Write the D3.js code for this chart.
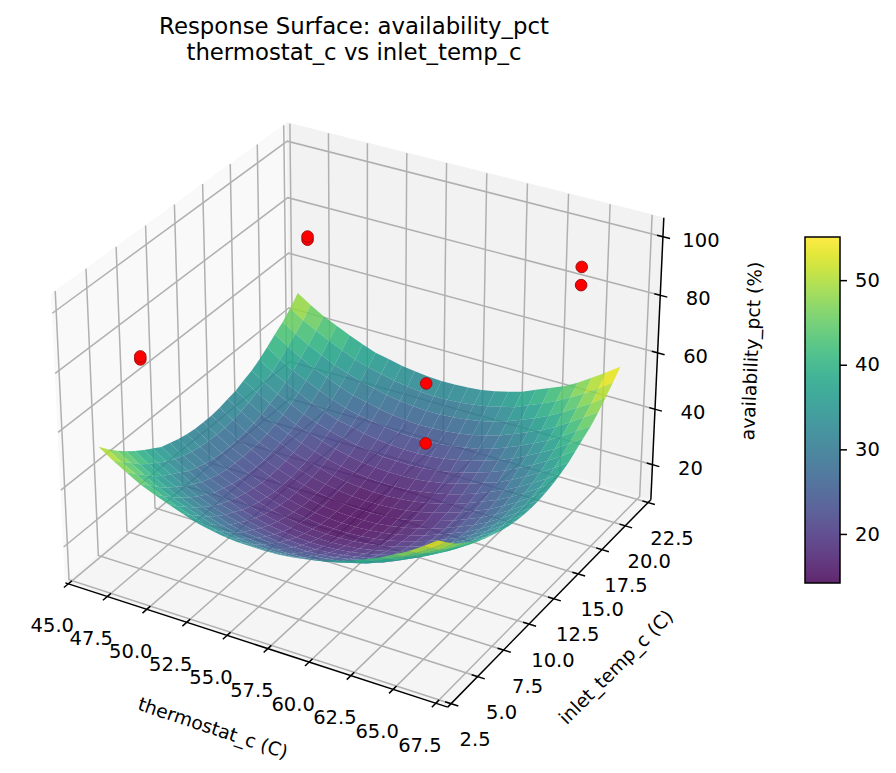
<!DOCTYPE html>
<html>
<head>
<meta charset="utf-8">
<title>Response Surface</title>
<script src="https://cdnjs.cloudflare.com/ajax/libs/d3/7.8.5/d3.min.js"></script>
<style>
html, body { margin: 0; padding: 0; background: #fff; }
svg { display: block; }
text { font-family: 'DejaVu Sans', sans-serif; fill: #000; }
</style>
</head>
<body>
<svg id="chart" width="896" height="773"></svg>
<script>
var title_lines = ['Response Surface: availability_pct', 'thermostat_c vs inlet_temp_c'];
var x_label = 'thermostat_c (C)';
var y_label = 'inlet_temp_c (C)';
var z_label = 'availability_pct (%)';

var x_ticks = [45, 47.5, 50, 52.5, 55, 57.5, 60, 62.5, 65, 67.5];
var y_ticks = [2.5, 5, 7.5, 10, 12.5, 15, 17.5, 20, 22.5];
var z_ticks = [20, 40, 60, 80, 100];
var colorbar_ticks = [20, 30, 40, 50];

var x_limits = [44.81, 68.19];
var y_limits = [2.19, 22.81];
var z_limits = [7.2, 106.4];
var color_limits = [14.2, 55.1];

// measured points, lower one of each pair first so the upper one sits on top
var observed_x = [48, 48, 48, 48, 65, 65, 65, 65];
var observed_y = [5, 5, 20, 20, 5, 5, 20, 20];
var observed_z = [81, 82, 77.6, 78.7, 80.6, 100.1, 87, 93.2];

var surface_x = [46.3, 47.15, 48, 48.85, 49.7, 50.55, 51.4, 52.25, 53.1, 53.95, 54.8, 55.65, 56.5, 57.35, 58.2, 59.05, 59.9, 60.75, 61.6, 62.45, 63.3, 64.15, 65, 65.85, 66.7];
var surface_y = [3.5, 4.25, 5, 5.75, 6.5, 7.25, 8, 8.75, 9.5, 10.25, 11, 11.75, 12.5, 13.25, 14, 14.75, 15.5, 16.25, 17, 17.75, 18.5, 19.25, 20, 20.75, 21.5];

// one row per surface_x, one column per surface_y
var surface_z = [
	[53.2,49.9,46.9,44.3,41.9,39.8,37.9,36.0,34.9,33.9,33.2,32.7,32.6,32.7,33.1,33.8,34.5,35.8,37.0,38.8,40.9,43.3,45.4,48.3,51.6],
	[50.1,46.8,44.2,41.2,38.8,36.7,34.8,33.1,31.8,30.8,30.1,29.7,29.5,29.6,30.0,30.7,31.6,32.9,34.1,35.7,37.8,40.2,42.6,45.2,48.5],
	[47.3,44.3,41.3,38.4,36.0,34.1,32.2,30.3,29.0,28.0,27.3,26.8,26.7,26.8,27.2,27.9,28.8,30.1,31.3,33.1,35.0,37.4,39.8,42.7,45.7],
	[44.6,41.6,38.6,35.8,33.6,31.4,29.6,27.8,26.5,25.5,24.8,24.6,24.4,24.6,24.7,25.3,26.3,27.5,28.9,30.7,32.8,34.9,37.5,40.4,43.6],
	[42.6,39.4,36.4,33.8,31.3,29.2,27.3,25.6,24.6,23.5,22.8,22.4,22.2,22.3,22.7,23.4,24.3,25.3,26.6,28.4,30.5,32.9,35.2,38.2,41.4],
	[40.7,37.4,34.6,31.8,29.4,27.2,25.4,23.9,22.6,21.6,20.9,20.4,20.2,20.4,20.8,21.4,22.4,23.6,24.7,26.5,28.6,30.9,33.5,36.2,39.4],
	[39.0,35.7,32.9,30.1,27.7,25.6,24.0,22.2,20.9,19.9,19.2,18.7,18.6,18.7,19.1,19.8,20.7,22.0,23.3,24.8,26.9,29.2,31.8,34.7,37.7],
	[37.3,34.2,31.2,28.5,26.1,24.3,22.4,20.8,19.5,18.5,17.8,17.3,17.2,17.3,17.7,18.4,19.3,20.6,22.1,23.9,25.7,28.1,30.7,33.6,36.7],
	[36.2,33.1,30.1,27.4,25.0,23.2,21.3,19.7,18.4,17.4,16.7,16.2,16.1,16.2,16.6,17.3,18.2,19.5,21.0,22.8,24.9,27.0,29.6,32.5,35.6],
	[35.4,32.3,29.3,26.6,24.5,22.4,20.5,18.9,17.6,16.6,15.9,15.4,15.3,15.4,15.8,16.4,17.4,18.6,20.2,22.0,24.1,26.1,28.8,31.7,34.9],
	[34.9,31.8,28.8,26.1,24.0,21.8,20.0,18.4,17.1,16.1,15.3,14.9,14.7,14.8,15.2,15.9,16.9,18.1,19.6,21.4,23.5,25.6,28.3,31.2,34.4],
	[34.8,31.5,28.5,25.8,23.7,21.6,19.7,18.1,16.8,15.8,15.1,14.6,14.5,14.6,15.0,15.7,16.6,17.9,19.4,21.2,23.3,25.3,28.0,30.9,34.1],
	[34.8,31.6,28.6,25.9,23.7,21.6,19.7,18.2,16.9,15.9,15.1,14.7,14.5,14.6,15.0,15.7,16.7,17.9,19.4,21.2,23.3,25.4,28.0,31.0,34.2],
	[35.0,31.9,28.9,26.2,24.1,21.9,20.1,18.5,17.2,16.2,15.4,15.0,14.8,14.9,15.3,16.0,17.0,18.2,19.7,21.5,23.6,25.7,28.4,31.3,34.5],
	[35.6,32.5,29.5,26.8,24.7,22.5,20.7,19.1,17.8,16.8,16.0,15.6,15.4,15.5,15.9,16.6,17.6,18.8,20.3,22.1,24.2,26.3,29.0,31.9,34.9],
	[36.4,33.4,30.4,27.7,25.3,23.4,21.6,20.0,18.7,17.7,16.9,16.5,16.3,16.4,16.8,17.5,18.5,19.7,21.2,23.0,25.1,27.2,29.8,32.8,35.8],
	[37.6,34.6,31.6,28.9,26.4,24.6,22.7,21.2,19.9,18.8,18.1,17.7,17.5,17.6,18.0,18.7,19.6,20.9,22.4,24.2,26.0,28.4,31.0,34.0,37.0],
	[39.1,35.8,33.0,30.3,27.9,25.7,24.2,22.6,21.3,20.3,19.6,19.1,18.9,19.1,19.5,20.1,21.1,22.3,23.9,25.7,27.5,29.8,32.5,35.2,38.4],
	[40.5,37.3,34.3,31.9,29.4,27.3,25.4,24.4,23.1,22.0,21.3,20.9,20.7,20.8,21.2,21.9,22.8,24.1,25.5,27.3,29.4,31.8,34.5,37.3,40.5],
	[42.6,39.3,36.3,33.9,31.5,29.3,27.5,26.1,24.8,24.1,23.3,22.9,22.7,22.8,23.2,23.9,24.9,25.8,27.5,29.3,31.4,33.8,36.4,39.3,42.5],
	[44.6,41.6,38.6,36.0,33.8,31.6,29.8,28.4,27.1,26.1,25.4,24.9,24.7,24.8,25.2,25.9,26.9,28.1,29.8,31.7,33.7,35.9,38.7,41.6,44.5],
	[47.2,43.9,41.2,38.6,36.2,34.2,32.4,31.0,29.7,28.7,28.0,27.5,27.3,27.4,27.8,28.5,29.5,30.7,32.4,34.3,36.1,38.5,41.3,44.2,47.1],
	[49.8,46.6,43.9,41.4,39.0,36.8,35.0,33.9,32.6,31.6,30.8,30.4,30.2,30.3,30.7,31.4,32.4,33.6,35.2,37.0,39.1,41.5,44.3,47.0,50.2],
	[53.0,49.7,46.7,44.2,42.1,40.0,38.1,36.8,35.5,34.5,34.0,33.5,33.4,33.5,33.9,34.6,35.3,36.6,38.4,40.2,42.3,44.7,47.2,50.1,53.4],
	[56.5,53.2,50.2,47.7,45.3,43.4,41.6,40.3,39.0,38.0,37.3,36.8,36.6,36.7,37.1,37.8,38.8,40.0,41.8,43.7,45.4,47.8,50.7,53.6,56.8]
];

var svg = d3.select('#chart');

// box sides and camera of the default 3d view, elevation 30 and azimuth -60
var box_x = 1.1905,
	box_y = 1.1905,
	box_z = 0.9,
	camera_dist = 10;

var x_scale = d3.scaleLinear().domain(x_limits).range([-box_x / 2, box_x / 2]);
var y_scale = d3.scaleLinear().domain(y_limits).range([-box_y / 2, box_y / 2]);
var z_scale = d3.scaleLinear().domain(z_limits).range([-box_z / 2, box_z / 2]);

var screen_x = d3.scaleLinear().domain([-0.1, 0.1]).range([363.5 - 368, 363.5 + 368]);
var screen_y = d3.scaleLinear().domain([-0.1, 0.1]).range([401 + 366, 401 - 366]);

function view(x, y, z) {
	var px = x_scale(x), py = y_scale(y), pz = z_scale(z);
	var right = 0.866025 * px + 0.5 * py;
	var up = -0.25 * px + 0.433013 * py + 0.866025 * pz;
	var toward = 0.433013 * px - 0.75 * py + 0.5 * pz;
	return { right: right, up: up, toward: toward };
}

function project(x, y, z) {
	var v = view(x, y, z);
	var d = camera_dist - v.toward;
	return [screen_x(v.right / d), screen_y(v.up / d)];
}

var line_path = d3.line();

function path3d(points) {
	return line_path(points.map(function(p) { return project(p[0], p[1], p[2]); }));
}

var x0 = x_limits[0], x1 = x_limits[1],
	y0 = y_limits[0], y1 = y_limits[1],
	z0 = z_limits[0], z1 = z_limits[1];

// panes
var panes = [
	{ color: '#f9f9f9', corners: [[x0, y0, z0], [x0, y1, z0], [x0, y1, z1], [x0, y0, z1]] },
	{ color: '#f2f2f2', corners: [[x0, y1, z0], [x1, y1, z0], [x1, y1, z1], [x0, y1, z1]] },
	{ color: '#f5f5f5', corners: [[x0, y0, z0], [x1, y0, z0], [x1, y1, z0], [x0, y1, z0]] }
];

svg.append('g').selectAll('path')
	.data(panes)
	.enter().append('path')
	.attr('d', function(d) { return path3d(d.corners) + 'Z'; })
	.style('fill', function(d) { return d.color; })
	.style('stroke', function(d) { return d.color; })
	.style('stroke-width', 1);

// grid
var grid_lines = [];
x_ticks.forEach(function(t) {
	grid_lines.push([[t, y0, z0], [t, y1, z0], [t, y1, z1]]);
});
y_ticks.forEach(function(t) {
	grid_lines.push([[x1, t, z0], [x0, t, z0], [x0, t, z1]]);
});
z_ticks.forEach(function(t) {
	grid_lines.push([[x0, y0, t], [x0, y1, t], [x1, y1, t]]);
});

svg.append('g').selectAll('path')
	.data(grid_lines)
	.enter().append('path')
	.attr('d', path3d)
	.style('fill', 'none')
	.style('stroke', '#b0b0b0')
	.style('stroke-width', 1.5);

// axis lines and ticks
var axis_lines = [
	[[x0, y0, z0], [x1, y0, z0]],
	[[x1, y0, z0], [x1, y1, z0]],
	[[x1, y1, z0], [x1, y1, z1]]
];
var tick_in = 0.015, tick_out = 0.018;
var x_span = x1 - x0, y_span = y1 - y0;

x_ticks.forEach(function(t) {
	axis_lines.push([[t, y0 - tick_out * y_span, z0], [t, y0 + tick_in * y_span, z0]]);
});
y_ticks.forEach(function(t) {
	axis_lines.push([[x1 - tick_in * x_span, t, z0], [x1 + tick_out * x_span, t, z0]]);
});
z_ticks.forEach(function(t) {
	axis_lines.push([[x1 - tick_in * x_span, y1, t], [x1 + tick_out * x_span, y1, t]]);
});

svg.append('g').selectAll('path')
	.data(axis_lines)
	.enter().append('path')
	.attr('d', path3d)
	.style('fill', 'none')
	.style('stroke', '#000')
	.style('stroke-width', 1.5);

// tick labels
function add_tick_labels(ticks, format, corner, dx, dy) {
	svg.append('g').selectAll('text')
		.data(ticks)
		.enter().append('text')
		.attr('x', function(t) { return corner(t)[0] + dx; })
		.attr('y', function(t) { return corner(t)[1] + dy; })
		.attr('text-anchor', 'middle')
		.attr('dominant-baseline', 'central')
		.style('font-size', '19.5px')
		.text(format);
}

add_tick_labels(x_ticks, d3.format('.1f'), function(t) { return project(t, y0, z0); }, -16, 42);
add_tick_labels(y_ticks, d3.format('.1f'), function(t) { return project(x1, t, z0); }, 24, 36);
add_tick_labels(z_ticks, d3.format('d'), function(t) { return project(x1, y1, t); }, 38, 3.5);

// surface, far cells first
var color = d3.scaleSequential(d3.interpolateViridis).domain(color_limits);
var cells = [];

for (var i = 0; i < surface_x.length - 1; i++) {
	for (var j = 0; j < surface_y.length - 1; j++) {
		var corners = [
			[surface_x[i], surface_y[j], surface_z[i][j]],
			[surface_x[i + 1], surface_y[j], surface_z[i + 1][j]],
			[surface_x[i + 1], surface_y[j + 1], surface_z[i + 1][j + 1]],
			[surface_x[i], surface_y[j + 1], surface_z[i][j + 1]]
		];
		cells.push({
			corners: corners,
			mean_z: d3.mean(corners, function(c) { return c[2]; }),
			depth: d3.mean(corners, function(c) { return view(c[0], c[1], c[2]).toward; })
		});
	}
}

cells.sort(function(a, b) { return a.depth - b.depth; });

svg.append('g').selectAll('path')
	.data(cells)
	.enter().append('path')
	.attr('d', function(d) { return path3d(d.corners) + 'Z'; })
	.style('fill', function(d) { return color(d.mean_z); })
	.style('fill-opacity', 0.85);

// observed points
svg.append('g').selectAll('circle')
	.data(d3.range(observed_x.length))
	.enter().append('circle')
	.attr('cx', function(i) { return project(observed_x[i], observed_y[i], observed_z[i])[0]; })
	.attr('cy', function(i) { return project(observed_x[i], observed_y[i], observed_z[i])[1]; })
	.attr('r', 5.8)
	.style('fill', '#ff0000')
	.style('stroke', '#a01010')
	.style('stroke-width', 1);

// title and axis labels
svg.append('g').selectAll('text')
	.data(title_lines)
	.enter().append('text')
	.attr('x', 354)
	.attr('y', function(d, i) { return 26 + i * 26; })
	.attr('text-anchor', 'middle')
	.attr('dominant-baseline', 'central')
	.style('font-size', '22.8px')
	.text(function(d) { return d; });

var axis_titles = [
	{ text: x_label, x: 213, y: 728, angle: 18.5 },
	{ text: y_label, x: 616, y: 667, angle: -45 },
	{ text: z_label, x: 751.5, y: 351, angle: -87.5 }
];

svg.append('g').selectAll('text')
	.data(axis_titles)
	.enter().append('text')
	.attr('transform', function(d) { return 'translate(' + d.x + ',' + d.y + ') rotate(' + d.angle + ')'; })
	.attr('text-anchor', 'middle')
	.attr('dominant-baseline', 'central')
	.style('font-size', '18.7px')
	.text(function(d) { return d.text; });

// colorbar
var bar_left = 805, bar_width = 35, bar_top = 237, bar_bottom = 583;
var bar_scale = d3.scaleLinear().domain(color_limits).range([bar_bottom, bar_top]);

var gradient = svg.append('defs').append('linearGradient')
	.attr('id', 'barGradient')
	.attr('x1', 0).attr('y1', 1)
	.attr('x2', 0).attr('y2', 0);

gradient.selectAll('stop')
	.data(d3.range(0, 1.0001, 0.05))
	.enter().append('stop')
	.attr('offset', function(d) { return d; })
	.attr('stop-color', function(d) { return d3.interpolateViridis(d); })
	.attr('stop-opacity', 0.85);

svg.append('rect')
	.attr('x', bar_left)
	.attr('y', bar_top)
	.attr('width', bar_width)
	.attr('height', bar_bottom - bar_top)
	.style('fill', 'url(#barGradient)')
	.style('stroke', '#000')
	.style('stroke-width', 1.5);

var bar_axis = svg.append('g')
	.attr('transform', 'translate(' + (bar_left + bar_width) + ',0)')
	.call(d3.axisRight(bar_scale).tickValues(colorbar_ticks).tickSize(7).tickPadding(8));

bar_axis.select('.domain').remove();
bar_axis.selectAll('line').style('stroke', '#000').style('stroke-width', 1.5);
bar_axis.selectAll('text')
	.style('font-family', "'DejaVu Sans', sans-serif")
	.style('font-size', '19.5px');
</script>
</body>
</html>
